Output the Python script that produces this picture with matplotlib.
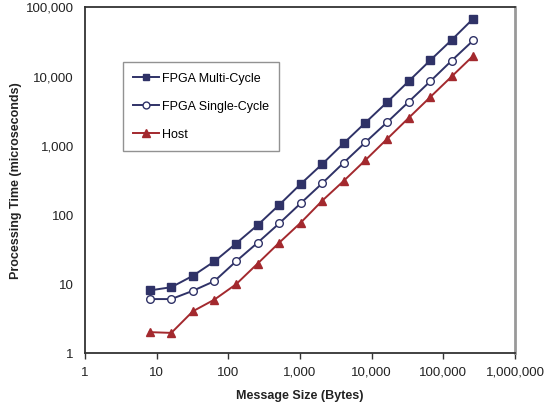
import matplotlib
matplotlib.use("Agg")
import matplotlib.pyplot as plt
from matplotlib.ticker import FixedLocator, NullLocator

plt.rcParams['font.family'] = ['Liberation Sans', 'DejaVu Sans']

sizes = [8, 16, 32, 64, 128, 256, 512, 1024, 2048, 4096, 8192, 16384,
         32768, 65536, 131072, 262144]
multi_cycle = [8.0, 8.9, 13, 21, 38, 70, 137, 275, 534, 1070, 2110, 4150,
               8330, 16700, 33000, 67000]
single_cycle = [6.0, 6.0, 7.9, 10.9, 21, 39, 74, 145, 282, 560, 1100, 2130,
                4200, 8300, 16600, 32500]
host = [2.0, 1.95, 4.0, 5.9, 9.8, 19.5, 39, 76, 158, 306, 608, 1224,
        2460, 4920, 9800, 19500]

x_ticks = [1, 10, 100, 1000, 10000, 100000, 1000000]
x_labels = ['1', '10', '100', '1,000', '10,000', '100,000', '1,000,000']
y_ticks = [1, 10, 100, 1000, 10000, 100000]
y_labels = ['1', '10', '100', '1,000', '10,000', '100,000']

navy = '#2f3267'
red = '#a3292e'

fig = plt.figure(figsize=(5.44, 4.06), dpi=100)
ax = fig.add_axes([85/544, 1-354/406, (515-85)/544, (354-7.5)/406])

ax.plot(sizes, multi_cycle, color=navy, lw=1.4, marker='s', ms=5.5,
        mfc=navy, mec=navy, label='FPGA Multi-Cycle')
ax.plot(sizes, single_cycle, color=navy, lw=1.4, marker='o', ms=5.5,
        mfc='white', mec=navy, mew=1.0, label='FPGA Single-Cycle')
ax.plot(sizes, host, color=red, lw=1.4, marker='^', ms=6,
        mfc=red, mec=red, label='Host')

ax.set_xscale('log')
ax.set_yscale('log')
ax.set_xlim(1, 1000000)
ax.set_ylim(1, 100000)
ax.xaxis.set_major_locator(FixedLocator(x_ticks))
ax.xaxis.set_minor_locator(NullLocator())
ax.yaxis.set_major_locator(FixedLocator(y_ticks))
ax.yaxis.set_minor_locator(NullLocator())
ax.set_xticklabels(x_labels)
ax.set_yticklabels(y_labels)
ax.tick_params(axis='x', direction='out', length=4, width=1,
               color='#333333', labelsize=9.5, labelcolor='#222222', pad=5)
ax.tick_params(axis='y', direction='out', length=0, width=1,
               color='#333333', labelsize=9.5, labelcolor='#222222', pad=8)

for s in ['left', 'bottom', 'top']:
    ax.spines[s].set_color('#333333')
    ax.spines[s].set_linewidth(1.3)
ax.spines['right'].set_color('#999999')
ax.spines['right'].set_linewidth(2)

ax.set_xlabel('Message Size (Bytes)', fontsize=9, fontweight='bold',
              color='#222222', labelpad=8)
ax.set_ylabel('Processing Time (microseconds)', fontsize=9,
              fontweight='bold', color='#222222', labelpad=3)

leg = ax.legend(loc='upper left', bbox_to_anchor=((123-85)/430, (354-63)/346.5),
                frameon=True, fancybox=False, fontsize=9, handlelength=2.1,
                handletextpad=0.2, labelspacing=1.3, borderpad=0.8,
                borderaxespad=0, markerscale=0.9)
leg.get_frame().set_edgecolor('#777777')
leg.get_frame().set_linewidth(1.0)

fig.savefig('out.png', dpi=100)
